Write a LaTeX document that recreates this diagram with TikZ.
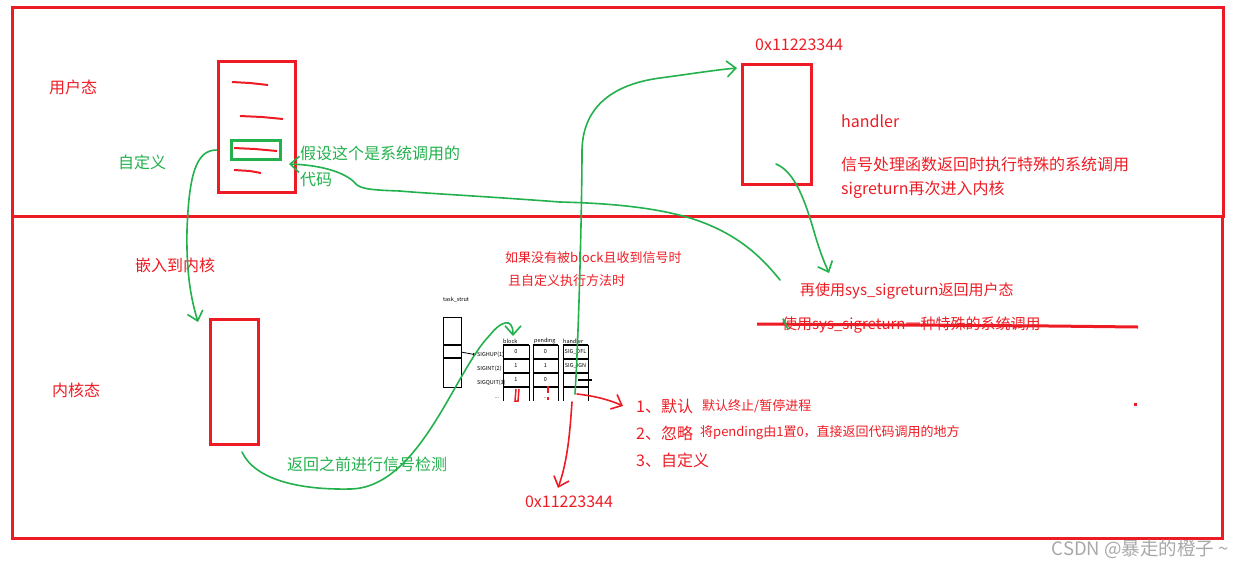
\documentclass[tikz,border=0pt]{standalone}
\usepackage{fontspec}
\setmainfont{Noto Sans CJK SC}
\usetikzlibrary{arrows.meta}
\definecolor{pred}{HTML}{ED1C24}
\definecolor{pgreen}{HTML}{22B14C}
\definecolor{wmark}{HTML}{A8A8A8}

\begin{document}
\begin{tikzpicture}[x=1pt, y=-1pt,
  box/.style={draw=pred, line width=3pt, inner sep=0pt},
  rtext/.style={text=pred, anchor=west, inner sep=0pt, font=\fontsize{16}{18}\selectfont},
  gtext/.style={rtext, text=pgreen},
  stext/.style={rtext, font=\fontsize{13}{15}\selectfont},
  mtext/.style={rtext, font=\fontsize{15}{17}\selectfont},
  tiny/.style={inner sep=0pt, font=\fontsize{5.5}{6}\selectfont},
  gline/.style={draw=pgreen, line width=1.6pt, line cap=round, line join=round},
  rline/.style={draw=pred, line width=1.6pt, line cap=round, line join=round},
  barb/.style={-{Straight Barb[length=9pt,width=16pt,line width=1.6pt]}}]
  \useasboundingbox (0,0) rectangle (1242,566);
  % Rahmen: Benutzer- und Kernelmodus
  \draw[pred, line width=3pt] (12,7) rectangle (1223,216);
  \draw[pred, line width=3pt] (12,216) rectangle (1222,538);

  % Kaesten
  \node[box, minimum width=77pt, minimum height=131pt] (code) at (256.5,127) {};
  \node[draw=pgreen, line width=3pt, inner sep=0pt, minimum width=49pt, minimum height=19pt] (call) at (256,150) {};
  \node[box, minimum width=48pt, minimum height=125pt] (kern) at (234.5,382) {};
  \node[box, minimum width=69pt, minimum height=120pt] (hdl) at (777,124.5) {};

  % Codezeilen (Kritzel)
  \foreach \xa/\xm/\xb/\y in {232/250/268/82, 240/262/283/116, 234/255/277/148, 234/250/261/170}{
    \draw[pred, line width=2pt] (\xa,\y) -- (\xm,\y+1) -- (\xb,\y+3);
  }

  % Texte
  \node[rtext] (user) at (49,87) {用户态};
  \node[gtext] (custom) at (118,162) {自定义};
  \node[gtext] (note) at (300,153) {假设这个是系统调用的};
  \node[gtext] (note2) at (300,180) {代码};
  \node[rtext] (embed) at (135,265) {嵌入到内核};
  \node[rtext] (kstate) at (52,390) {内核态};
  \node[gtext] (check) at (287,464) {返回之前进行信号检测};
  \node[stext] (cond1) at (505,258) {如果没有被block且收到信号时};
  \node[stext] (cond2) at (508,281) {且自定义执行方法时};
  \node[rtext] (addr1) at (755,45) {0x11223344};
  \node[rtext] (hname) at (841,121) {handler};
  \node[rtext] (hnote1) at (841,164) {信号处理函数返回时执行特殊的系统调用};
  \node[rtext] (hnote2) at (841,190) {sigreturn再次进入内核};
  \node[mtext] (ret) at (800,291) {再使用sys\_sigreturn返回用户态};
  \node[mtext] (old) at (782,325) {使用sys\_sigreturn一种特殊的系统调用};
  \draw[pred, line width=3pt] (757,324) -- (1050,326) -- (1138,327);
  \node[rtext] (opt1) at (636,406) {1、默认};
  \node[stext] (opt1t) at (702,406) {默认终止/暂停进程};
  \node[rtext] (opt2) at (636,433) {2、忽略};
  \node[stext] (opt2t) at (700,433) {将pending由1置0，直接返回代码调用的地方};
  \node[rtext] (opt3) at (636,460) {3、自定义};
  \node[rtext, anchor=center] (addr2) at (569,502) {0x11223344};
  \fill[pred] (1134,403) rectangle (1137,406);
  \node[anchor=east, inner sep=0pt, text=wmark, font=\fontsize{18.5}{20}\selectfont] (mark) at (1229,549) {CSDN @暴走的橙子 \textasciitilde};

  % task_struct und Signaltabelle
  \node[tiny, anchor=west] (ts) at (443,300) {task\_strut};
  \draw[line width=1pt] (443,317) rectangle (461,387);
  \foreach \y in {345,358}{ \draw[line width=1.5pt] (443,\y) -- (461,\y); }
  \foreach \xa/\xb in {503/529, 533/558, 563/588}{
    \draw[line width=1pt] (\xa,345) -- (\xa,401);
    \draw[line width=1pt] (\xb,345) -- (\xb,401);
    \foreach \y in {345,359,373,387}{ \draw[line width=1.2pt] (\xa,\y) -- (\xb,\y); }
  }
  \node[tiny, anchor=west] (hblock) at (503,341) {block};
  \node[tiny, anchor=west] (hpend) at (534,341) {pending};
  \node[tiny, anchor=west] (hhand) at (563,341) {handler};
  \node[tiny, anchor=west] (sighup) at (477,355) {SIGHUP(1)};
  \node[tiny, anchor=west] (sigint) at (477,369) {SIGINT(2)};
  \node[tiny, anchor=west] (sigquit) at (477,383) {SIGQUIT(3)};
  \foreach \v [count=\i] in {0,1,1}{ \node[tiny] (b\i) at (516,338+14*\i) {\v}; }
  \foreach \v [count=\i] in {0,1,0}{ \node[tiny] (p\i) at (545.5,338+14*\i) {\v}; }
  \node[tiny] (h1) at (575.5,352) {SIG\_DFL};
  \node[tiny] (h2) at (575.5,366) {SIG\_IGN};
  \coordinate (h3) at (575,394);
  \node[tiny] (dots1) at (497,398) {...};
  \node[tiny] (dots2) at (546,398) {...};
  \draw[-{Latex[length=4pt]}, line width=0.8pt] (461,352) -- (sighup.west);
  \draw[line width=1.5pt] (578,380) -- (592,380);
  % rote Markierungen
  \draw[pred, line width=1.5pt] (516,389) -- (515,401) -- (518,401) -- (519,389);
  \draw[pred, line width=1.5pt] (548,386) -- (548,393);
  \fill[pred] (547,397) rectangle (549,400);

  % gruene Pfeile
  \coordinate (kin) at (198,322);
  \coordinate (kout) at (242,452);
  \coordinate (tin) at (513,336);
  \coordinate (hin) at (737,68);
  \coordinate (hsrc) at (776,164);
  \coordinate (hret) at (829,273);
  \coordinate (rsrc) at (780,280);
  \coordinate (cin) at (289,164);
  \draw[gline, barb] (code.west |- call) .. controls (196,150) and (189,175) .. (187,230)
    .. controls (186,280) and (193,305) .. (kin);
  \draw[gline, barb] (kout) .. controls (255,480) and (300,490) .. (350,489)
    .. controls (420,488) and (455,370) .. (490,335)
    .. controls (500,322) and (513,316) .. (tin);
  \draw[gline, barb] (h3) .. controls (579,330) and (582,200) .. (582,150)
    .. controls (583,105) and (615,84) .. (660,78)
    .. controls (690,74) and (715,70) .. (hin);
  \draw[gline, barb] (hsrc) .. controls (795,172) and (805,200) .. (815,235)
    .. controls (822,258) and (826,266) .. (hret);
  \draw[gline, barb] (rsrc) .. controls (760,255) and (735,232) .. (690,218)
    .. controls (650,206) and (600,203) .. (560,202)
    .. controls (480,196) and (420,193) .. (400,191)
    .. controls (370,190) and (360,189) .. (355,183)
    .. controls (345,172) and (320,165) .. (cin);
  \draw[gline] (783,319) -- (788,329);

  % rote Pfeile
  \draw[rline, barb] (577,394) .. controls (595,396) and (610,400) .. ([xshift=-13pt]opt1.west);
  \draw[rline, barb] (572,402) .. controls (570,430) and (568,460) .. ([xshift=-11pt,yshift=8pt]addr2.north);
\end{tikzpicture}
\end{document}
